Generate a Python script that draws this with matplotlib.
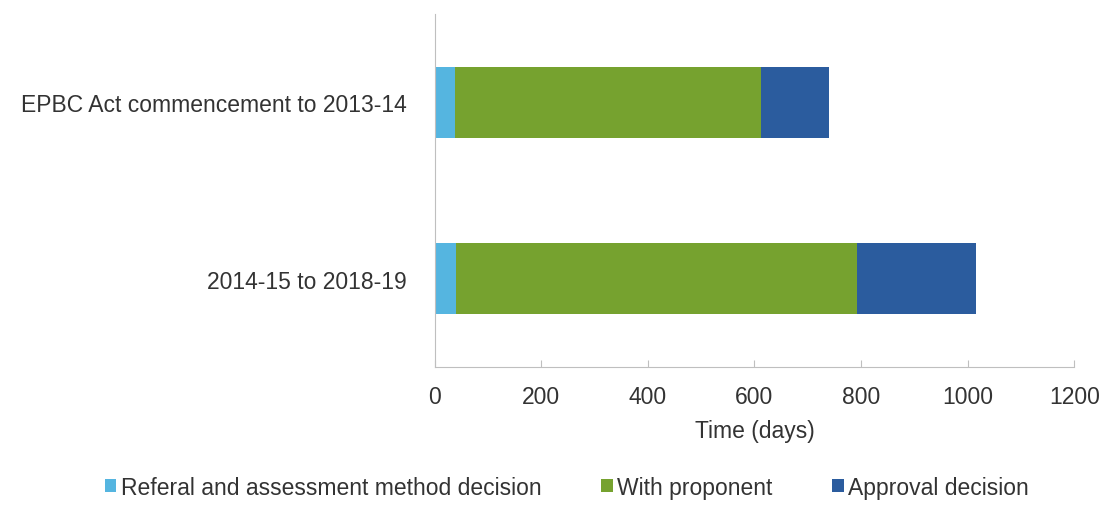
import matplotlib.pyplot as plt
import numpy as np

plt.rcParams['font.family'] = ['Liberation Sans', 'DejaVu Sans']

periods = ["EPBC Act commencement to 2013-14", "2014-15 to 2018-19"]
referral = [38, 40]
proponent = [574, 753]
approval = [128, 222]
series_names = ["Referal and assessment method decision", "With proponent", "Approval decision"]
colors = ["#55b5e0", "#76a22f", "#2b5c9e"]

fig = plt.figure(figsize=(11.03, 5.06), dpi=100)
ax = fig.add_axes([0.394, 0.273, 0.58, 0.697])

y = np.arange(len(periods))
left = np.zeros(len(periods))
for vals, name, c in zip([referral, proponent, approval], series_names, colors):
    ax.barh(y, vals, left=left, height=0.4, color=c, label=name)
    left += np.array(vals)

ax.set_ylim(1.5, -0.5)
ax.set_xlim(0, 1200)
ax.set_xticks(range(0, 1201, 200))
ax.set_yticks(y)
ax.set_yticklabels(periods)

txt = "#333333"
fs = 16.5
ax.tick_params(axis='y', length=0, pad=20, labelsize=fs, labelcolor=txt)
ax.tick_params(axis='x', length=5, direction='in', color="#bfbfbf", pad=13,
               labelsize=fs, labelcolor=txt)
ax.set_xlabel("Time (days)", fontsize=fs, color=txt, labelpad=8)

for s in ["top", "right"]:
    ax.spines[s].set_visible(False)
ax.spines["left"].set_color("#bfbfbf")
ax.spines["bottom"].set_color("#bfbfbf")

fig.legend(loc="lower center", bbox_to_anchor=(0.514, -0.028), ncol=3, frameon=False,
           fontsize=fs, handlelength=0.5, handleheight=0.5, handletextpad=0.2,
           columnspacing=2.6, labelcolor=txt)

fig.savefig("out.png", dpi=100)
